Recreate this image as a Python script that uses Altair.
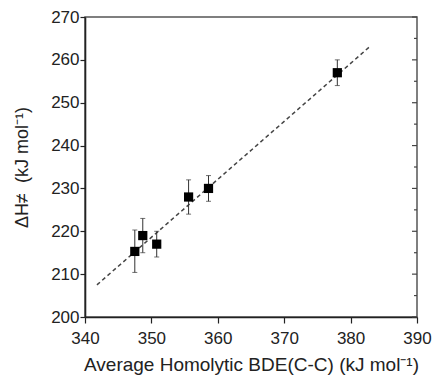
import altair as alt
import pandas as pd

bde = [347.5, 348.7, 350.8, 355.6, 358.6, 378.0]
dh = [215.3, 219.0, 217.0, 228.0, 230.0, 257.0]
dh_lo = [210.4, 215.0, 214.0, 224.0, 227.0, 254.0]
dh_hi = [220.3, 223.0, 220.0, 232.0, 233.0, 260.0]

fit_x = [341.8, 382.9]
fit_y = [207.5, 263.1]

x_ticks = [340, 345, 350, 355, 360, 365, 370, 375, 380, 385, 390]
y_ticks = [200, 205, 210, 215, 220, 225, 230, 235, 240, 245, 250, 255, 260, 265, 270]
y_major = [200, 210, 220, 230, 240, 250, 260, 270]
y_minor = [205, 215, 225, 235, 245, 255, 265]

pts = pd.DataFrame({"x": bde, "y": dh, "lo": dh_lo, "hi": dh_hi})
fit = pd.DataFrame({"x": fit_x, "y": fit_y})
rmaj = pd.DataFrame({"t": y_major})
rmin = pd.DataFrame({"t": y_minor})

W, H = 332, 300
FONT = "Liberation Sans"
INK = "#222222"

xscale = alt.Scale(domain=[340, 390], nice=False, zero=False)
yscale = alt.Scale(domain=[200, 270], nice=False, zero=False)

major_minor_x = {"condition": {"test": "datum.value % 10 === 0", "value": 6}, "value": 3}
major_minor_y = {"condition": {"test": "datum.value % 10 === 0", "value": 5}, "value": 3}

x_axis = alt.Axis(
    values=x_ticks,
    labelExpr="datum.value % 10 === 0 ? datum.label : ''",
    tickSize=major_minor_x,
    tickColor=INK,
    tickWidth=1.2,
    domainColor=INK,
    domainWidth=1.6,
    labelFont=FONT,
    labelFontSize=17,
    labelColor=INK,
    labelPadding=7,
    labelFlush=False,
    labelOverlap=False,
    grid=False,
    title="Average Homolytic BDE(C-C) (kJ mol⁻¹)",
    titleFont=FONT,
    titleFontSize=19,
    titleFontWeight="normal",
    titleColor=INK,
    titlePadding=9,
)

y_axis = alt.Axis(
    values=y_ticks,
    labelExpr="datum.value % 10 === 0 ? datum.label : ''",
    tickSize=major_minor_y,
    tickColor=INK,
    tickWidth=1.2,
    domainColor=INK,
    domainWidth=1.6,
    labelFont=FONT,
    labelFontSize=17,
    labelColor=INK,
    labelPadding=1,
    labelFlush=False,
    labelOverlap=False,
    grid=False,
    title="ΔH≠\u00a0\u00a0(kJ mol⁻¹)",
    titleFont=FONT,
    titleFontSize=18,
    titleFontWeight="normal",
    titleColor=INK,
    titlePadding=19,
)

line = alt.Chart(fit).mark_line(
    color="#444444", strokeDash=[4, 3], strokeWidth=1.5
).encode(
    x=alt.X("x:Q", scale=xscale, axis=x_axis),
    y=alt.Y("y:Q", scale=yscale, axis=y_axis),
)

right_major = alt.Chart(rmaj).mark_rule(color="#444444", strokeWidth=1.2).encode(
    x=alt.value(W - 5),
    x2=alt.value(W),
    y=alt.Y("t:Q", scale=yscale),
)
right_minor = alt.Chart(rmin).mark_rule(color="#444444", strokeWidth=1.2).encode(
    x=alt.value(W - 3),
    x2=alt.value(W),
    y=alt.Y("t:Q", scale=yscale),
)

bars = alt.Chart(pts).mark_rule(color="#333333", strokeWidth=1).encode(
    x=alt.X("x:Q", scale=xscale),
    y=alt.Y("lo:Q", scale=yscale),
    y2="hi:Q",
)

cap_lo = alt.Chart(pts).mark_tick(
    color="#333333", orient="horizontal", size=5, thickness=1
).encode(
    x=alt.X("x:Q", scale=xscale),
    y=alt.Y("lo:Q", scale=yscale),
)
cap_hi = alt.Chart(pts).mark_tick(
    color="#333333", orient="horizontal", size=5, thickness=1
).encode(
    x=alt.X("x:Q", scale=xscale),
    y=alt.Y("hi:Q", scale=yscale),
)

points = alt.Chart(pts).mark_point(
    shape="square", filled=True, color="#000000", size=85, opacity=1
).encode(
    x=alt.X("x:Q", scale=xscale),
    y=alt.Y("y:Q", scale=yscale),
)

chart = alt.layer(line, right_major, right_minor, bars, cap_lo, cap_hi, points).properties(
    width=W,
    height=H,
    autosize=alt.AutoSizeParams(type="none"),
    padding={"left": 85, "top": 17, "right": 17, "bottom": 62},
    background="white",
).configure_view(
    stroke="#555555", strokeWidth=1.5
)

chart.save("out.html", embed_options={"renderer": "svg", "actions": False})
